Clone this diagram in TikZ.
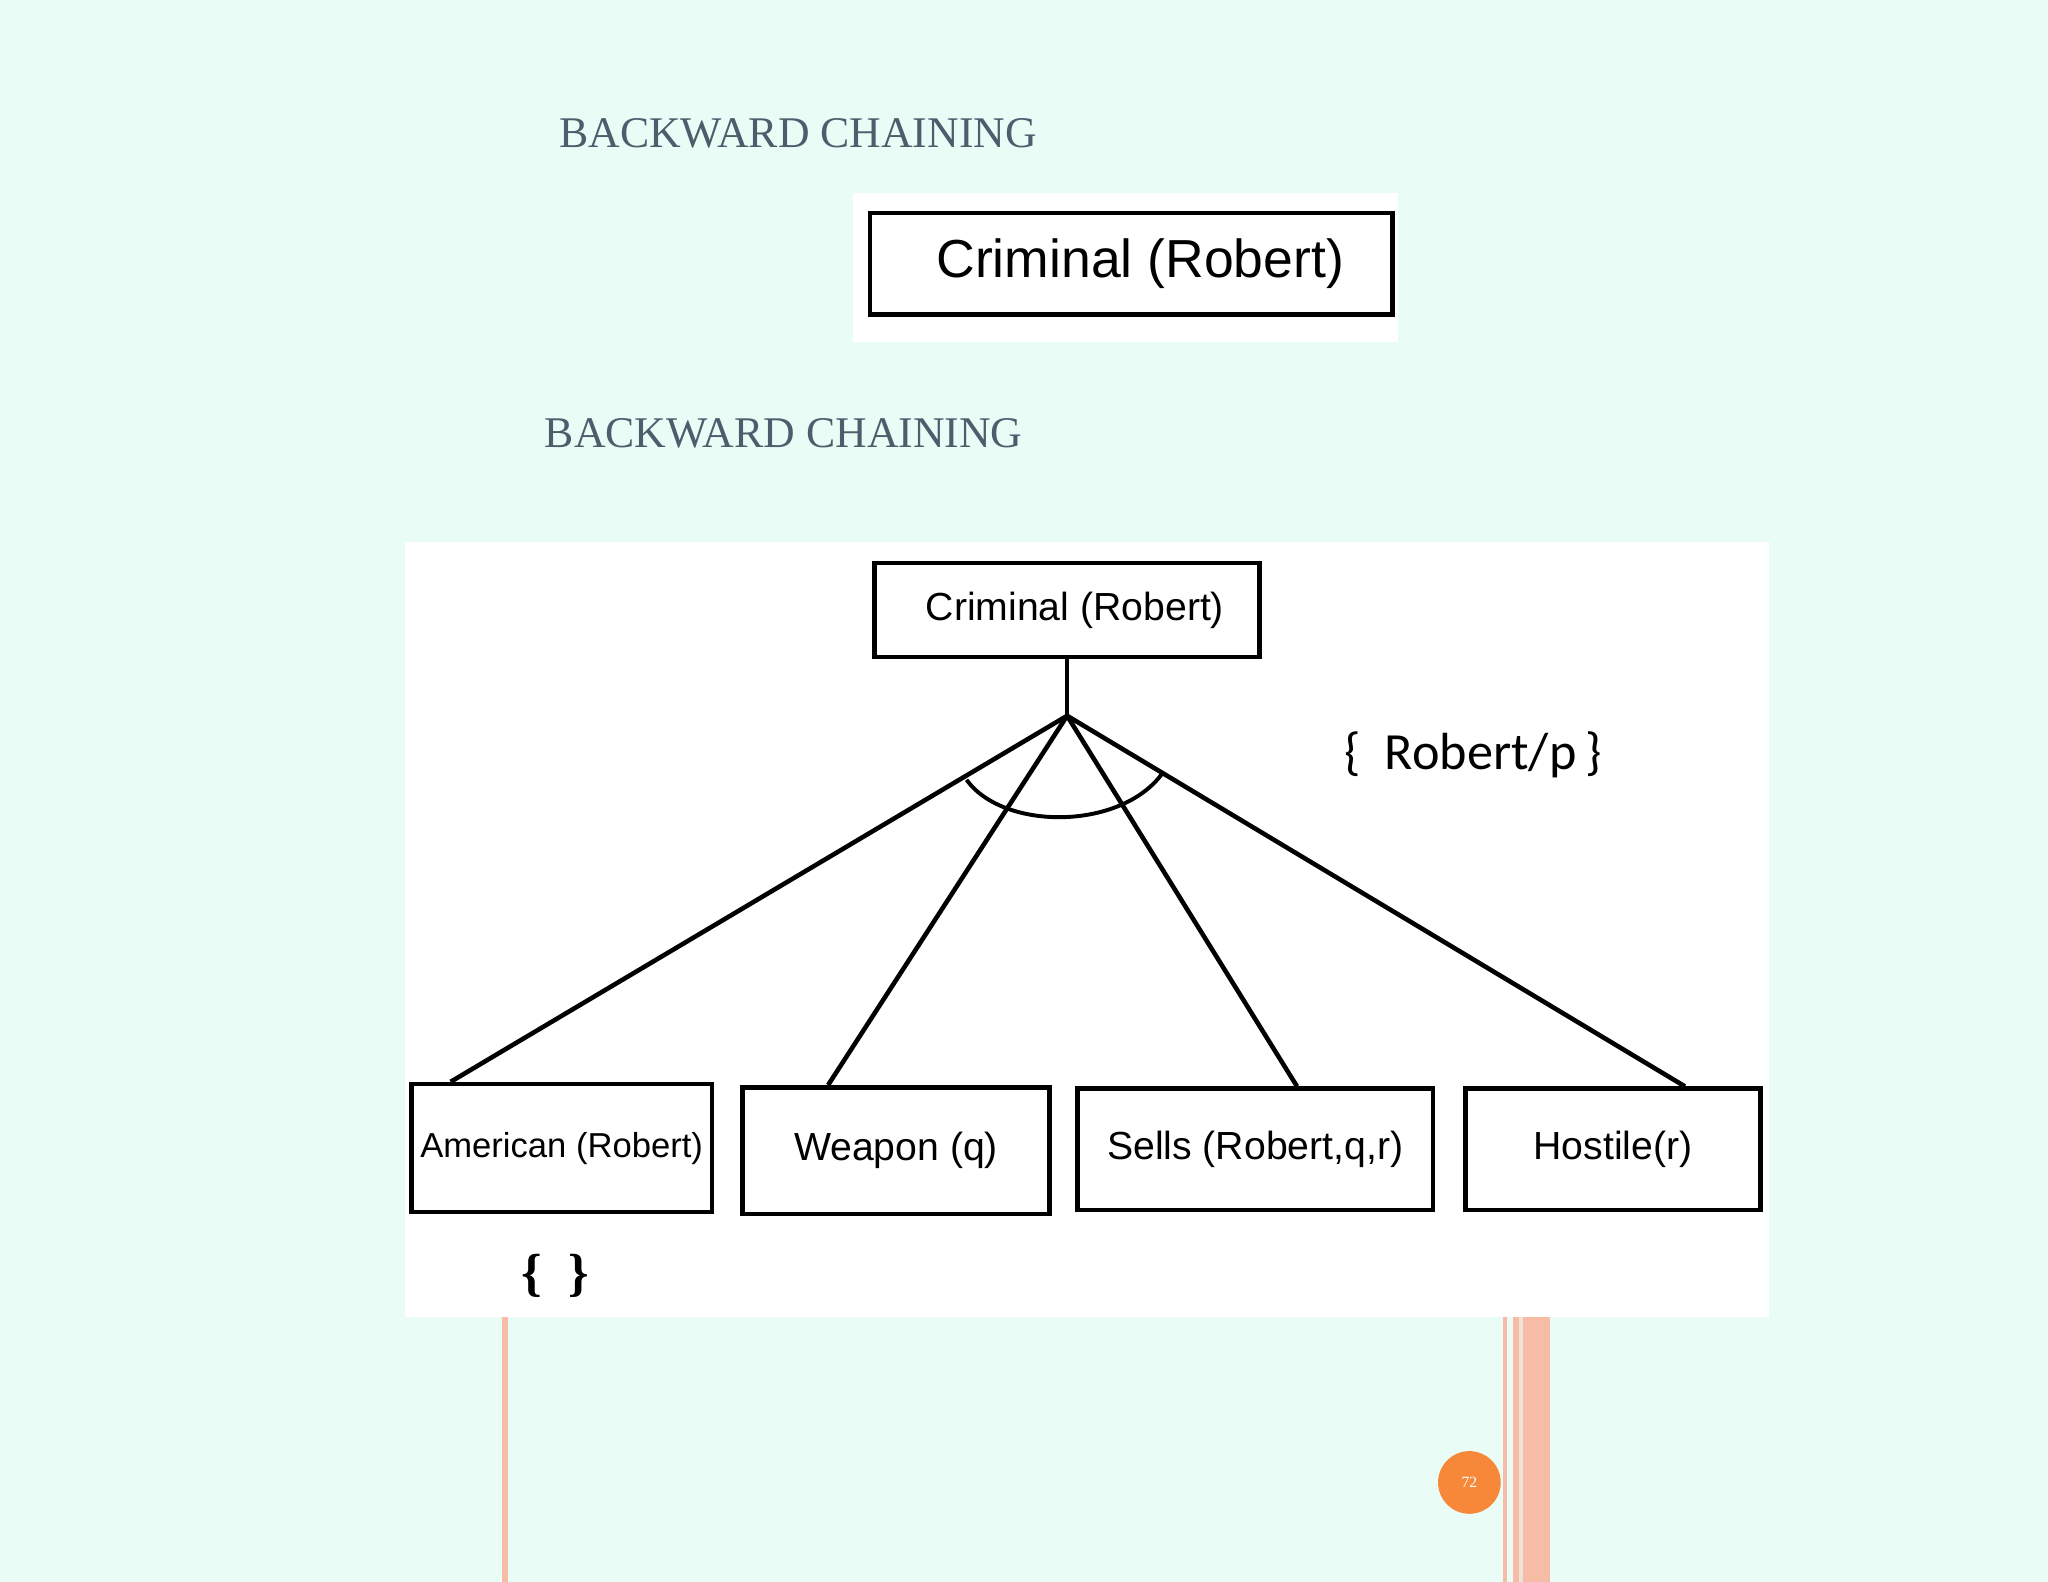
\documentclass[tikz,border=0pt]{standalone}
\usepackage{fontspec}
\setmainfont{Liberation Serif}
\newfontfamily\arial{Liberation Sans}
\newfontfamily\carl{Carlito}
\usetikzlibrary{positioning}
\definecolor{bgmint}{HTML}{E9FDF6}
\definecolor{titlegray}{HTML}{4C5D6B}
\definecolor{barpink}{HTML}{F6BCA6}
\definecolor{pageorange}{HTML}{F7883A}
\tikzset{
  title/.style={text=titlegray, font=\fontsize{33.5}{33.5}\selectfont, anchor=west, inner sep=0},
  goal/.style={draw, line width=3.5pt, minimum width=#1, inner sep=0, font=\arial\fontsize{30}{30}\selectfont},
  link/.style={line width=3.5pt}
}
\begin{document}
\begin{tikzpicture}[x=1pt,y=-1pt]
  % background
  \fill[bgmint] (0,0) rectangle (1568,1211);
  \useasboundingbox (0,0) rectangle (1568,1211);

  % side bars
  \fill[barpink] (384,1008) rectangle (389,1211);
  \fill[barpink] (1151,1008) rectangle (1154,1211);
  \fill[barpink] (1158,1008) rectangle (1187,1211);
  \fill[bgmint!60!barpink] (1163,1008) rectangle (1166,1211);

  % first slide
  \node[title] (t1) at (428,102) {BACKWARD CHAINING};
  \fill[white] (653,148) rectangle (1070,262);
  \node[goal=400pt, minimum height=78pt, font=\arial\fontsize{41}{41}\selectfont] (c1) at (866,202) {\hspace{14pt}Criminal (Robert)};

  % second slide
  \node[title] (t2) at (417,332) {BACKWARD CHAINING};
  \fill[white] (310,415) rectangle (1354,1008);

  \node[goal=295pt, minimum height=72pt] (root) at (817,467) {\hspace{12pt}Criminal (Robert)};
  \coordinate (and) at (817,548);
  \node[goal=230pt, minimum height=98pt, font=\arial\fontsize{26.5}{26.5}\selectfont] (am) at (430,879) {American (Robert)};
  \node[goal=235pt, minimum height=97pt] (we) at (686,881) {Weapon (q)};
  \node[goal=272pt, minimum height=93pt] (se) at (961,880) {Sells (Robert,q,r)};
  \node[goal=226pt, minimum height=93pt] (ho) at (1235,880) {Hostile(r)};

  \draw[link] (root) -- (and);
  \draw[link] (and) -- ([xshift=-85pt]am.north);
  \draw[link] (and) -- ([xshift=-52pt]we.north);
  \draw[link] (and) -- ([xshift=32pt]se.north);
  \draw[link] (and) -- ([xshift=55pt]ho.north);
  \draw[line width=3pt] (740,597) .. controls (768,636) and (858,636) .. (890,592);

  \node[font=\carl\fontsize{40}{40}\selectfont] (sub) at (1128,578) {\{\ \ Robert/p\,\}};
  \node[font=\bfseries\fontsize{40}{40}\selectfont] (empty) at (425,977) {\{\ \ \}};

  % page number
  \node[circle, fill=pageorange, minimum size=48pt, inner sep=0, text=white, font=\fontsize{12}{12}\selectfont] (pg) at (1125,1135) {72};
\end{tikzpicture}
\end{document}
